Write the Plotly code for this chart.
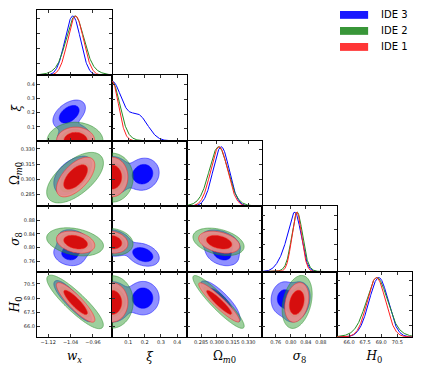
import numpy as np
import plotly.graph_objects as go
from plotly.subplots import make_subplots

## axes
titles = ['<i>w</i><sub><i>x</i></sub>', '<i>ξ</i>', 'Ω<sub><i>m</i>0</sub>',
          '<i>σ</i><sub>8</sub>', '<i>H</i><sub>0</sub>']
x_ranges = [[-1.16, -0.892], [0.0, 0.46], [0.2716, 0.343], [0.7235, 0.923], [64.88, 71.87]]
y_ranges = [[0.0, 1.1], [0.0, 0.466], [0.2734, 0.338], [0.731, 0.92], [64.9, 71.8]]
tick_vals = [[-1.12, -1.04, -0.96], [0.1, 0.2, 0.3, 0.4], [0.285, 0.300, 0.315, 0.330],
             [0.76, 0.80, 0.84, 0.88], [66.0, 67.5, 69.0, 70.5]]
tick_text = [['−1.12', '−1.04', '−0.96'], ['0.1', '0.2', '0.3', '0.4'],
             ['0.285', '0.300', '0.315', '0.330'], ['0.76', '0.80', '0.84', '0.88'],
             ['66.0', '67.5', '69.0', '70.5']]
bounded_low = [False, True, False, False, False]   # xi >= 0

## posterior summaries (w, xi, Om, s8, H0)
## corr order: w-xi, w-Om, w-s8, w-H0, xi-Om, xi-s8, xi-H0, Om-s8, Om-H0, s8-H0
ide1_mean = [-1.022, 0.0, 0.3022, 0.816, 68.55]
ide1_sd = [0.028, 0.040, 0.0080, 0.0130, 0.85]
ide1_corr = [0.0, 0.6, -0.3, -0.88, 0.0, -0.15, 0.0, -0.35, -0.93, 0.25]

# IDE 2 has wider tails: core + wide part
ide2_mean = [-1.024, 0.0, 0.3016, 0.817, 68.6]
ide2_core_weight = 0.72
ide2_core_sd = [0.030, 0.045, 0.0082, 0.0135, 0.92]
ide2_wide_weight = 0.28
ide2_wide_sd = [0.055, 0.065, 0.0125, 0.020, 1.45]
ide2_corr = [0.0, 0.6, -0.3, -0.88, 0.0, -0.15, 0.0, -0.35, -0.92, 0.3]

# IDE 3 is two-peaked in xi
ide3a_weight = 0.65
ide3a_mean = [-1.026, 0.0, 0.3035, 0.814, 68.6]
ide3a_sd = [0.026, 0.050, 0.0080, 0.016, 0.9]
ide3a_corr = [0.0, 0.6, -0.3, -0.88, 0.0, -0.15, 0.0, -0.35, -0.92, 0.25]
ide3b_weight = 0.35
ide3b_mean = [-1.045, 0.19, 0.305, 0.780, 69.0]
ide3b_sd = [0.026, 0.045, 0.0072, 0.015, 0.8]
ide3b_corr = [0.45, 0.5, -0.2, -0.85, 0.1, -0.3, 0.0, -0.3, -0.9, 0.1]
# 1D marginals of IDE 3 (smoother than the 2D ones)
ide3_xi_weight = [0.70, 0.30]
ide3_xi_mean = [0.0, 0.16]
ide3_xi_sd = [0.06, 0.06]
ide3_s8_weight = [0.70, 0.30]
ide3_s8_mean = [0.813, 0.788]
ide3_s8_sd = [0.016, 0.020]

legend_names = ['IDE 3', 'IDE 2', 'IDE 1']

models = [
    dict(name='IDE 3', line='#0000ff', outer='rgba(70,70,255,0.6)', inner='rgba(0,0,255,0.95)',
         comps=[(ide3a_weight, ide3a_mean, ide3a_sd, ide3a_corr),
                (ide3b_weight, ide3b_mean, ide3b_sd, ide3b_corr)],
         one_d={1: list(zip(ide3_xi_weight, ide3_xi_mean, ide3_xi_sd)),
                3: list(zip(ide3_s8_weight, ide3_s8_mean, ide3_s8_sd))}),
    dict(name='IDE 2', line='#228b22', outer='rgba(60,160,60,0.5)', inner='rgba(60,150,60,0.85)',
         comps=[(ide2_core_weight, ide2_mean, ide2_core_sd, ide2_corr),
                (ide2_wide_weight, ide2_mean, ide2_wide_sd, ide2_corr)]),
    dict(name='IDE 1', line='#ff2020', outer='rgba(240,140,140,0.88)', inner='rgba(214,10,10,0.97)',
         comps=[(1.0, ide1_mean, ide1_sd, ide1_corr)]),
]

pairs = [(0, 1), (0, 2), (0, 3), (0, 4), (1, 2), (1, 3), (1, 4), (2, 3), (2, 4), (3, 4)]


def corr_of(corr, i, j):
    return corr[pairs.index((min(i, j), max(i, j)))]


def dens1(model, k, x):
    d = np.zeros_like(x)
    if k in model.get('one_d', {}):
        for wt, m, s in model['one_d'][k]:
            d += wt * np.exp(-0.5 * ((x - m) / s) ** 2) / s
        return d
    for wt, m, s, c in model['comps']:
        d += wt * np.exp(-0.5 * ((x - m[k]) / s[k]) ** 2) / s[k]
    return d


def dens2(comps, i, j, X, Y):
    d = np.zeros_like(X)
    for wt, m, s, c in comps:
        r = corr_of(c, i, j)
        u = (X - m[i]) / s[i]
        v = (Y - m[j]) / s[j]
        d += wt * np.exp(-(u * u - 2 * r * u * v + v * v) / (2 * (1 - r * r))) / (s[i] * s[j] * np.sqrt(1 - r * r))
    return d


def hpd(z, probs=(0.95, 0.68)):
    flat = np.sort(z.ravel())[::-1]
    cum = np.cumsum(flat) / flat.sum()
    return [float(flat[np.searchsorted(cum, p)]) for p in probs]


def grid(k, n=120):
    lo, hi = x_ranges[k]
    span = hi - lo
    lo = 0.0 if bounded_low[k] else lo - 0.4 * span
    return np.linspace(lo, hi + 0.4 * span, n)


n = 5
specs = [[{} if c <= r else None for c in range(n)] for r in range(n)]
fig = make_subplots(rows=n, cols=n, specs=specs, horizontal_spacing=0, vertical_spacing=0)

for r in range(n):
    for c in range(r + 1):
        if r == c:
            x = np.linspace(x_ranges[c][0], x_ranges[c][1], 300)
            for m in models:
                d = dens1(m, c, x)
                fig.add_trace(go.Scatter(x=x, y=d / d.max(), mode='lines',
                                         line=dict(color=m['line'], width=1),
                                         hoverinfo='skip', showlegend=False), row=r + 1, col=c + 1)
        else:
            gx, gy = grid(c), grid(r)
            X, Y = np.meshgrid(gx, gy)
            for m in models:
                Z = dens2(m['comps'], c, r, X, Y)
                l95, l68 = hpd(Z)
                for lvl, fc in ((l95, m['outer']), (l68, m['inner'])):
                    # plotly shades the side that fails the constraint, so '<' shades z >= lvl
                    fig.add_trace(go.Contour(x=gx, y=gy, z=Z.astype(np.float32),
                                             contours=dict(type='constraint', operation='<', value=lvl),
                                             fillcolor=fc, line=dict(color=m['line'], width=0.5),
                                             showscale=False, hoverinfo='skip', showlegend=False),
                                  row=r + 1, col=c + 1)

        common = dict(ticks='inside', ticklen=3, tickwidth=0.7, tickcolor='#333',
                      showline=True, linecolor='black', linewidth=1, mirror='ticks',
                      showgrid=False, zeroline=False, tickangle=0,
                      tickfont=dict(family='DejaVu Sans', size=5, color='#222'))
        fig.update_xaxes(range=x_ranges[c], tickvals=tick_vals[c], ticktext=tick_text[c],
                         showticklabels=(r == n - 1), row=r + 1, col=c + 1, **common)
        if r == c:
            fig.update_yaxes(range=y_ranges[0], tickvals=[0.2, 0.45, 0.7, 0.95],
                             showticklabels=False, row=r + 1, col=c + 1, **common)
        else:
            fig.update_yaxes(range=y_ranges[r], tickvals=tick_vals[r], ticktext=tick_text[r],
                             showticklabels=(c == 0), row=r + 1, col=c + 1, **common)
        if r == n - 1:
            fig.update_xaxes(title_text=titles[c], title_standoff=8,
                             title_font=dict(family='DejaVu Serif', size=12, color='black'),
                             row=r + 1, col=c + 1)
        if c == 0 and r > 0:
            fig.update_yaxes(title_text=titles[r], title_standoff=2,
                             title_font=dict(family='DejaVu Serif', size=12, color='black'),
                             row=r + 1, col=c + 1)

## legend (patches + labels)
for k, name in enumerate(legend_names):
    m = [mm for mm in models if mm['name'] == name][0]
    yc = 0.985 - k * 0.049
    fig.add_shape(type='rect', xref='paper', yref='paper', x0=0.808, x1=0.883,
                  y0=yc - 0.012, y1=yc + 0.012, fillcolor=m['line'], line=dict(width=0),
                  opacity=0.9)
    fig.add_annotation(xref='paper', yref='paper', x=0.912, y=yc, text=name, showarrow=False,
                       xanchor='left', yanchor='middle',
                       font=dict(family='DejaVu Sans', size=10, color='black'))

# page body has an 8px margin, so the figure is 8px smaller and margins shifted
fig.update_layout(width=417, height=357, margin=dict(l=29, r=13, t=2, b=28),
                  plot_bgcolor='white', paper_bgcolor='white', showlegend=False)
fig.write_html("out.html")
